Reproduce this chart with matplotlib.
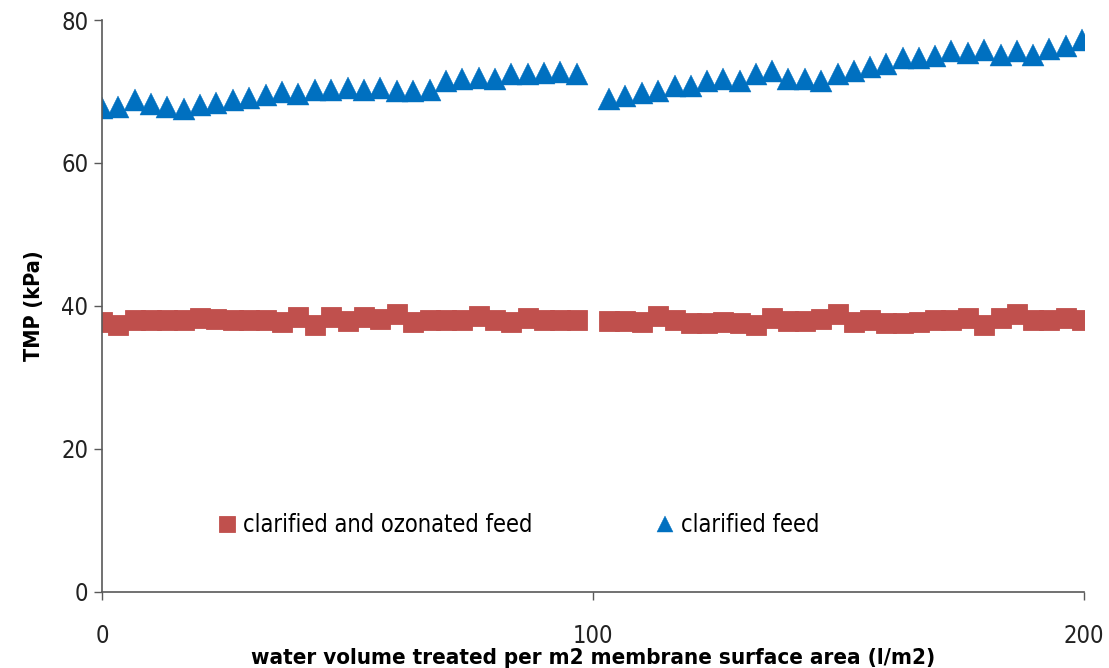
import matplotlib.pyplot as plt

# water volume treated per m2 membrane surface area (l/m2)
x_run1 = [0.0, 3.3, 6.7, 10.0, 13.3, 16.7, 20.0, 23.3, 26.7, 30.0,
          33.3, 36.7, 40.0, 43.3, 46.7, 50.0, 53.3, 56.7, 60.0, 63.3,
          66.7, 70.0, 73.3, 76.7, 80.0, 83.3, 86.7, 90.0, 93.3, 96.7]
x_run2 = [103.3, 106.6, 109.9, 113.3, 116.6, 119.9, 123.2, 126.5, 129.9, 133.2,
          136.5, 139.8, 143.1, 146.5, 149.8, 153.1, 156.4, 159.7, 163.1, 166.4,
          169.7, 173.0, 176.3, 179.7, 183.0, 186.3, 189.6, 192.9, 196.3, 199.6]

# TMP (kPa), clarified and ozonated feed
ozon_run1 = [37.7, 37.3, 38.1, 38.1, 38.1, 38.0, 38.3, 38.2, 38.0, 38.0,
             38.0, 37.7, 38.5, 37.4, 38.5, 37.9, 38.5, 38.2, 38.9, 37.7,
             38.1, 38.1, 38.1, 38.6, 38.0, 37.7, 38.3, 38.0, 38.1, 38.1]
ozon_run2 = [37.9, 37.9, 37.7, 38.6, 38.1, 37.6, 37.6, 37.7, 37.6, 37.4,
             38.3, 37.9, 37.9, 38.2, 38.9, 37.7, 38.0, 37.6, 37.6, 37.7,
             38.0, 38.0, 38.3, 37.4, 38.3, 38.9, 38.1, 38.1, 38.3, 38.0]

# TMP (kPa), clarified feed
clar_run1 = [67.7, 67.8, 68.8, 68.3, 67.8, 67.6, 68.1, 68.4, 68.8, 69.1,
             69.5, 69.9, 69.7, 70.2, 70.2, 70.5, 70.2, 70.5, 70.1, 70.1,
             70.2, 71.5, 71.7, 71.9, 71.8, 72.4, 72.5, 72.6, 72.8, 72.4]
clar_run2 = [68.9, 69.4, 69.8, 70.1, 70.8, 70.8, 71.5, 71.8, 71.5, 72.4,
             72.9, 71.8, 71.8, 71.5, 72.4, 72.9, 73.4, 73.8, 74.7, 74.7,
             75.0, 75.6, 75.4, 75.8, 75.1, 75.6, 75.1, 75.9, 76.4, 77.2]

red = '#C0504D'
blue = '#0070C0'
axis_col = '#595959'

plt.rcParams['font.family'] = ['DejaVu Sans']
plt.rcParams['font.stretch'] = 'condensed'

fig = plt.figure(figsize=(11.09, 6.68), dpi=100)
ax = fig.add_axes([0.092, 0.114, 0.8855, 0.856])

ax.plot(x_run1 + x_run2, ozon_run1 + ozon_run2, 's', color=red, ms=15,
        mec=red, mew=0.6, label='clarified and ozonated feed')
ax.plot(x_run1 + x_run2, clar_run1 + clar_run2, '^', color=blue, ms=16,
        mec=blue, mew=0.3, label='clarified feed')

ax.set_xlim(0, 200)
ax.set_ylim(0, 80)
ax.set_xticks([0, 100, 200])
ax.set_yticks([0, 20, 40, 60, 80])
ax.tick_params(axis='x', length=6, width=1, color=axis_col, pad=17,
               labelsize=17, labelcolor='#222222')
ax.tick_params(axis='y', length=6, width=1, color=axis_col, pad=4,
               labelsize=17, labelcolor='#222222')
for s in ['top', 'right']:
    ax.spines[s].set_visible(False)
for s in ['left', 'bottom']:
    ax.spines[s].set_color(axis_col)
    ax.spines[s].set_linewidth(1.2)

ax.set_xlabel('water volume treated per m2 membrane surface area (l/m2)',
              fontsize=16, fontweight='bold', labelpad=0)
ax.set_ylabel('TMP (kPa)', fontsize=15.5, fontweight='bold', labelpad=12)

ax.legend(loc='center', bbox_to_anchor=(0.424, 0.117), ncol=2, frameon=False,
          fontsize=17, markerscale=0.75, handlelength=0.8, handletextpad=0.3,
          columnspacing=5.2)

fig.savefig('out.png', dpi=100)
